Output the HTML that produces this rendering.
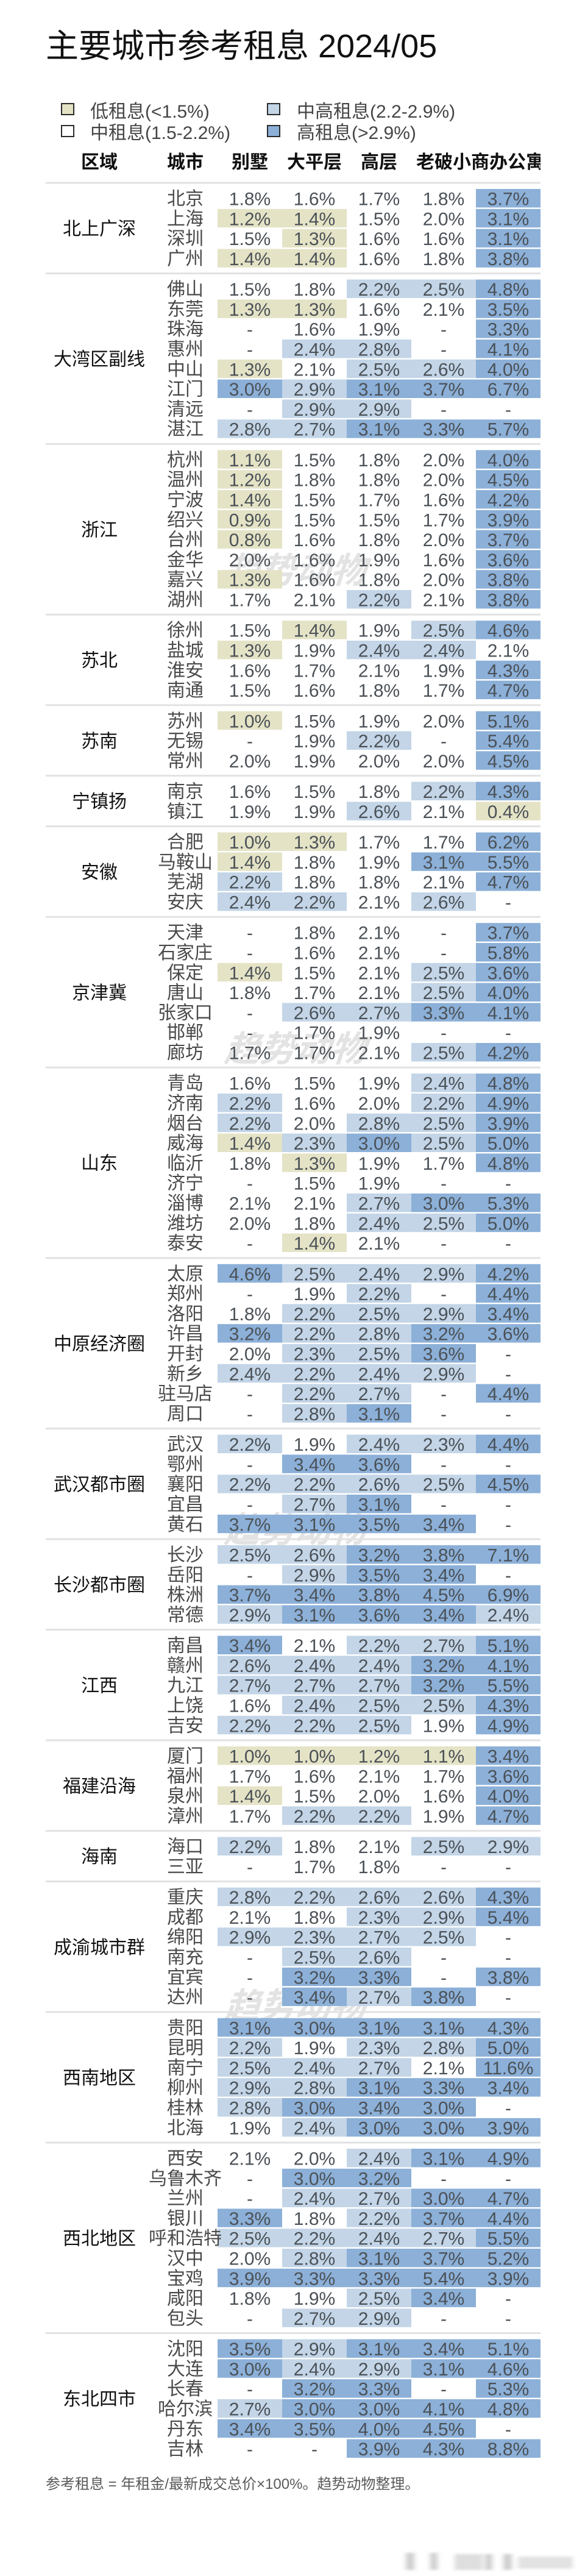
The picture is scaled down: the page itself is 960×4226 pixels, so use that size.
<!DOCTYPE html>
<html lang="zh-CN">
<head>
<meta charset="utf-8">
<title>主要城市参考租息 2024/05</title>
<style>
html,body{margin:0;padding:0;background:#fff;}
body{width:960px;height:4226px;overflow:hidden;}
svg{display:block;}
text{font-family:"Liberation Sans","Noto Sans CJK SC",sans-serif;}
.legend-text{font-size:30px;fill:#454545;}
.head{font-size:30px;font-weight:700;fill:#111;text-anchor:middle;}
</style>
</head>
<body>
<svg id="chart" xmlns="http://www.w3.org/2000/svg" width="960" height="4226" viewBox="0 0 960 4226">
  <defs>
    <clipPath id="header-clip"><rect x="0" y="240" width="887" height="50"></rect></clipPath>
    <filter id="smudge-blur" x="-10%" y="-50%" width="120%" height="200%"><feGaussianBlur stdDeviation="4 2"></feGaussianBlur></filter>
  </defs>
  <rect x="0" y="0" width="960" height="4226" fill="#fff"></rect>
  <text x="75" y="94" font-size="54" fill="#111">主要城市参考租息 2024/05</text>

  <g>
    <rect x="101" y="170" width="20" height="18" fill="#E4E3C6" stroke="#2b2b2b" stroke-width="2"></rect>
    <text class="legend-text" x="148" y="193">低租息(&lt;1.5%)</text>
    <rect x="101" y="206" width="20" height="18" fill="#fff" stroke="#2b2b2b" stroke-width="2"></rect>
    <text class="legend-text" x="148" y="228">中租息(1.5-2.2%)</text>
    <rect x="439" y="170" width="20" height="18" fill="#C3D5E7" stroke="#2b2b2b" stroke-width="2"></rect>
    <text class="legend-text" x="487" y="193">中高租息(2.2-2.9%)</text>
    <rect x="439" y="206" width="20" height="18" fill="#8CB0D8" stroke="#2b2b2b" stroke-width="2"></rect>
    <text class="legend-text" x="487" y="228">高租息(&gt;2.9%)</text>
  </g>

  <g clip-path="url(#header-clip)">
    <text class="head" x="163" y="276">区域</text>
    <text class="head" x="304" y="276">城市</text>
    <text class="head" x="410" y="276">别墅</text>
    <text class="head" x="516" y="276">大平层</text>
    <text class="head" x="622" y="276">高层</text>
    <text class="head" x="728" y="276">老破小</text>
    <text class="head" x="833" y="276">商办公寓</text>
  </g>

  <g id="watermarks" font-size="58" font-weight="700" fill="#e3e3e3">
    <text text-anchor="middle" transform="translate(483,956) skewX(-18)">趋势动物</text>
    <text text-anchor="middle" transform="translate(483,1741) skewX(-18)">趋势动物</text>
    <text text-anchor="middle" transform="translate(483,2530) skewX(-18)">趋势动物</text>
    <text text-anchor="middle" transform="translate(483,3311) skewX(-18)">趋势动物</text>
  </g>

  <g id="rows"></g>

  <text x="75" y="4083" font-size="24" fill="#5a5a5a">参考租息 = 年租金/最新成交总价×100%。趋势动物整理。</text>

  <g filter="url(#smudge-blur)" fill="#cfcfcf">
    <rect x="666" y="4188" width="14" height="28"></rect>
    <rect x="706" y="4188" width="12" height="28"></rect>
    <rect x="746" y="4190" width="46" height="26" fill="#dedede"></rect>
    <rect x="796" y="4190" width="12" height="26"></rect>
    <rect x="826" y="4190" width="14" height="26"></rect>
    <rect x="850" y="4194" width="90" height="20" fill="#e2e2e2"></rect>
  </g>
</svg>

<script>
const N = null;

const regions = ["北上广深","大湾区副线","浙江","苏北","苏南","宁镇扬","安徽","京津冀","山东","中原经济圈","武汉都市圈","长沙都市圈","江西","福建沿海","海南","成渝城市群","西南地区","西北地区","东北四市"];
const regionCityCounts = [4,8,8,4,3,2,4,7,9,8,5,4,5,4,2,6,6,9,6];

const cities = [
"北京","上海","深圳","广州",
"佛山","东莞","珠海","惠州","中山","江门","清远","湛江",
"杭州","温州","宁波","绍兴","台州","金华","嘉兴","湖州",
"徐州","盐城","淮安","南通",
"苏州","无锡","常州",
"南京","镇江",
"合肥","马鞍山","芜湖","安庆",
"天津","石家庄","保定","唐山","张家口","邯郸","廊坊",
"青岛","济南","烟台","威海","临沂","济宁","淄博","潍坊","泰安",
"太原","郑州","洛阳","许昌","开封","新乡","驻马店","周口",
"武汉","鄂州","襄阳","宜昌","黄石",
"长沙","岳阳","株洲","常德",
"南昌","赣州","九江","上饶","吉安",
"厦门","福州","泉州","漳州",
"海口","三亚",
"重庆","成都","绵阳","南充","宜宾","达州",
"贵阳","昆明","南宁","柳州","桂林","北海",
"西安","乌鲁木齐","兰州","银川","呼和浩特","汉中","宝鸡","咸阳","包头",
"沈阳","大连","长春","哈尔滨","丹东","吉林"];

const villa = [
1.8,1.2,1.5,1.4,
1.5,1.3,N,N,1.3,3.0,N,2.8,
1.1,1.2,1.4,0.9,0.8,2.0,1.3,1.7,
1.5,1.3,1.6,1.5,
1.0,N,2.0,
1.6,1.9,
1.0,1.4,2.2,2.4,
N,N,1.4,1.8,N,N,1.7,
1.6,2.2,2.2,1.4,1.8,N,2.1,2.0,N,
4.6,N,1.8,3.2,2.0,2.4,N,N,
2.2,N,2.2,N,3.7,
2.5,N,3.7,2.9,
3.4,2.6,2.7,1.6,2.2,
1.0,1.7,1.4,1.7,
2.2,N,
2.8,2.1,2.9,N,N,N,
3.1,2.2,2.5,2.9,2.8,1.9,
2.1,N,N,3.3,2.5,2.0,3.9,1.8,N,
3.5,3.0,N,2.7,3.4,N];

const largeFlat = [
1.6,1.4,1.3,1.4,
1.8,1.3,1.6,2.4,2.1,2.9,2.9,2.7,
1.5,1.8,1.5,1.5,1.6,1.6,1.6,2.1,
1.4,1.9,1.7,1.6,
1.5,1.9,1.9,
1.5,1.9,
1.3,1.8,1.8,2.2,
1.8,1.6,1.5,1.7,2.6,1.7,1.7,
1.5,1.6,2.0,2.3,1.3,1.5,2.1,1.8,1.4,
2.5,1.9,2.2,2.2,2.3,2.2,2.2,2.8,
1.9,3.4,2.2,2.7,3.1,
2.6,2.9,3.4,3.1,
2.1,2.4,2.7,2.4,2.2,
1.0,1.6,1.5,2.2,
1.8,1.7,
2.2,1.8,2.3,2.5,3.2,3.4,
3.0,1.9,2.4,2.8,3.0,2.4,
2.0,3.0,2.4,1.8,2.2,2.8,3.3,1.9,2.7,
2.9,2.4,3.2,3.0,3.5,N];

const highRise = [
1.7,1.5,1.6,1.6,
2.2,1.6,1.9,2.8,2.5,3.1,2.9,3.1,
1.8,1.8,1.7,1.5,1.8,1.9,1.8,2.2,
1.9,2.4,2.1,1.8,
1.9,2.2,2.0,
1.8,2.6,
1.7,1.9,1.8,2.1,
2.1,2.1,2.1,2.1,2.7,1.9,2.1,
1.9,2.0,2.8,3.0,1.9,1.9,2.7,2.4,2.1,
2.4,2.2,2.5,2.8,2.5,2.4,2.7,3.1,
2.4,3.6,2.6,3.1,3.5,
3.2,3.5,3.8,3.6,
2.2,2.4,2.7,2.5,2.5,
1.2,2.1,2.0,2.2,
2.1,1.8,
2.6,2.3,2.7,2.6,3.3,2.7,
3.1,2.3,2.7,3.1,3.4,3.0,
2.4,3.2,2.7,2.2,2.4,3.1,3.3,2.5,2.9,
3.1,2.9,3.3,3.0,4.0,3.9];

const oldSmall = [
1.8,2.0,1.6,1.8,
2.5,2.1,N,N,2.6,3.7,N,3.3,
2.0,2.0,1.6,1.7,2.0,1.6,2.0,2.1,
2.5,2.4,1.9,1.7,
2.0,N,2.0,
2.2,2.1,
1.7,3.1,2.1,2.6,
N,N,2.5,2.5,3.3,N,2.5,
2.4,2.2,2.5,2.5,1.7,N,3.0,2.5,N,
2.9,N,2.9,3.2,3.6,2.9,N,N,
2.3,N,2.5,N,3.4,
3.8,3.4,4.5,3.4,
2.7,3.2,3.2,2.5,1.9,
1.1,1.7,1.6,1.9,
2.5,N,
2.6,2.9,2.5,N,N,3.8,
3.1,2.8,2.1,3.3,3.0,3.0,
3.1,N,3.0,3.7,2.7,3.7,5.4,3.4,N,
3.4,3.1,N,4.1,4.5,4.3];

const commercial = [
3.7,3.1,3.1,3.8,
4.8,3.5,3.3,4.1,4.0,6.7,N,5.7,
4.0,4.5,4.2,3.9,3.7,3.6,3.8,3.8,
4.6,2.1,4.3,4.7,
5.1,5.4,4.5,
4.3,0.4,
6.2,5.5,4.7,N,
3.7,5.8,3.6,4.0,4.1,N,4.2,
4.8,4.9,3.9,5.0,4.8,N,5.3,5.0,N,
4.2,4.4,3.4,3.6,N,N,4.4,N,
4.4,N,4.5,N,N,
7.1,N,6.9,2.4,
5.1,4.1,5.5,4.3,4.9,
3.4,3.6,4.0,4.7,
2.9,N,
4.3,5.4,N,N,3.8,N,
4.3,5.0,11.6,3.4,N,3.9,
4.9,N,4.7,4.4,5.5,5.2,3.9,N,N,
5.1,4.6,5.3,4.8,N,8.8];

const seriesNames = ["villa","large-flat","high-rise","old-small","commercial"];
const seriesValues = [villa, largeFlat, highRise, oldSmall, commercial];

const SVG_NS = "http://www.w3.org/2000/svg";
const layer = document.getElementById("rows");

/* axis functions */
const firstRowTop = 310, rowPitch = 32.8, sectionGap = 17.4, cellHeight = 30.4;
const tableLeft = 75, tableRight = 887;
const columnLeft = 357, columnWidth = 106;
function columnX(col) { return columnLeft + col * columnWidth; }
function columnCenter(col) { return columnX(col) + columnWidth / 2; }
function rowTop(rowsBefore, sectionsBefore) { return firstRowTop + rowsBefore * rowPitch + sectionsBefore * sectionGap; }
function cellColor(v) {
  if (v === null) return null;
  if (v < 1.5) return "#E4E3C6";
  if (v < 2.2) return null;
  if (v <= 2.9) return "#C3D5E7";
  return "#8CB0D8";
}

function make(tag, attrs, text) {
  const el = document.createElementNS(SVG_NS, tag);
  for (const key in attrs) el.setAttribute(key, attrs[key]);
  if (text !== undefined) el.textContent = text;
  layer.appendChild(el);
  return el;
}

/* cell backgrounds first, text afterwards */
let rowIndex = 0;
regions.forEach(function (region, s) {
  const count = regionCityCounts[s];
  const top = rowTop(rowIndex, s);

  const sep = make("rect", { x: tableLeft, y: (top - 11.5).toFixed(1), width: tableRight - tableLeft, height: 3, fill: "#e2e2e2" });
  
  

  for (let r = 0; r < count; r++) {
    const y = rowTop(rowIndex + r, s);
    seriesValues.forEach(function (series, c) {
      const fill = cellColor(series[rowIndex + r]);
      if (fill) {
        const bg = make("rect", { x: columnX(c), y: y.toFixed(1), width: columnWidth, height: cellHeight, fill: fill });
        
        
      }
    });
  }
  rowIndex += count;
});

rowIndex = 0;
regions.forEach(function (region, s) {
  const count = regionCityCounts[s];
  const top = rowTop(rowIndex, s);
  const mid = top + (count * rowPitch - (rowPitch - cellHeight)) / 2;

  const regionLabel = make("text", { x: 163, y: (mid + 11).toFixed(1), "font-size": 30, fill: "#111", "text-anchor": "middle" }, region);
  
  

  for (let r = 0; r < count; r++) {
    const i = rowIndex + r;
    const y = rowTop(i, s);

    const cityLabel = make("text", { x: 304, y: (y + 26).toFixed(1), "font-size": 30, fill: "#4a4a4a", "text-anchor": "middle" }, cities[i]);
    
    

    seriesValues.forEach(function (series, c) {
      const v = series[i];
      const label = v === null ? "-" : v.toFixed(1) + "%";
      const t = make("text", { x: columnCenter(c), y: (y + 26.5).toFixed(1), "font-size": 30, fill: "#4b5157", "text-anchor": "middle" }, label);
      
      
    });
  }
  rowIndex += count;
});
</script>
</body>
</html>
